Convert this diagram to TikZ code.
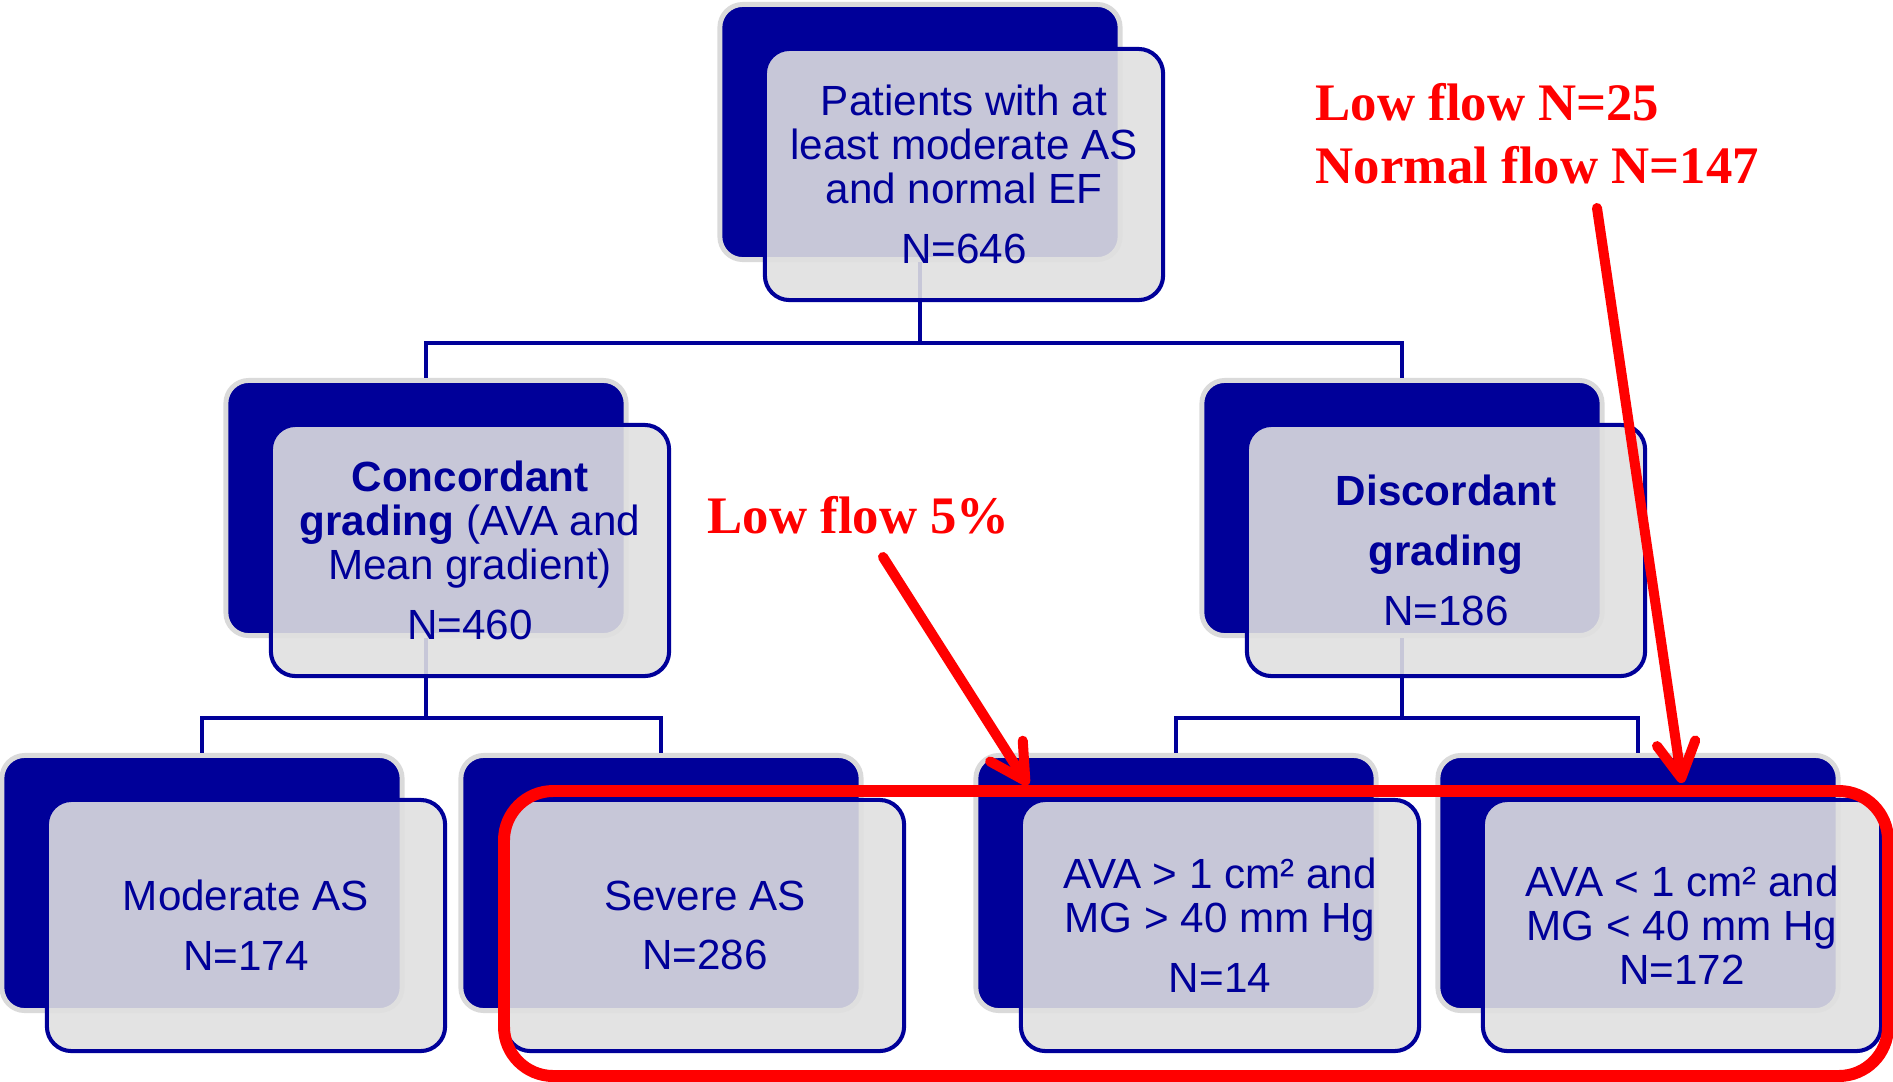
\documentclass[tikz,border=0pt]{standalone}
\usepackage{fontspec}
\setmainfont{Liberation Sans}
\newfontfamily\timesfont{Liberation Serif}
\usetikzlibrary{arrows.meta}
\definecolor{navy}{RGB}{0,0,153}
\definecolor{boxgray}{RGB}{224,224,224}
\definecolor{rimgray}{RGB}{218,218,218}

\begin{document}
\begin{tikzpicture}[x=0.01cm, y=-0.01cm,
    back/.style={rectangle, rounded corners=6.5pt, fill=navy, draw=rimgray, line width=1.4pt,
      minimum width=4cm, minimum height=2.55cm},
    front/.style={rectangle, rounded corners=7pt, fill=boxgray, fill opacity=0.89, text opacity=1,
      draw=navy, line width=1.15pt, minimum width=3.98cm, minimum height=2.51cm, inner sep=0pt,
      align=center, text=navy, font=\fontsize{12}{12.5}\selectfont},
    link/.style={draw=navy, line width=1.15pt},
    note/.style={text=red, inner sep=0pt, font=\timesfont\bfseries\fontsize{15}{18}\selectfont},
    pointer/.style={red, line width=2.85pt, line cap=round,
      -{Straight Barb[round,length=10pt,width=11pt]}}]
        \useasboundingbox (0,0) rectangle (1893,1081);

        % dark boxes at the back
        \node[back] (pat)   at (920,132) {};
        \node[back] (conc)  at (426,508) {};
        \node[back] (disc)  at (1402,508) {};
        \node[back] (mod)   at (202,883) {};
        \node[back] (sev)   at (661,883) {};
        \node[back] (avahi) at (1176,883) {};
        \node[back] (avalo) at (1638,883) {};

        % tree lines
        \coordinate (bus1) at (920,343);
        \coordinate (bus2) at (426,718);
        \coordinate (bus3) at (1402,718);
        \draw[link] (pat.south) -- (bus1) -| (conc.north)
                    (bus1) -| (disc.north);
        \draw[link] (conc.south) -- (bus2) -| (mod.north)
                    (bus2) -| (sev.north);
        \draw[link] (disc.south) -- (bus3) -| (avahi.north)
                    (bus3) -| (avalo.north);

        % text boxes in front
        \node[front] (patf) at ([shift={(44,42.5)}]pat.center)
            {Patients with at\\least moderate AS\\and normal EF\\[4.5pt]N=646};
        \node[front] (concf) at ([shift={(44,42.5)}]conc.center)
            {\textbf{Concordant}\\\textbf{grading} (AVA and\\Mean gradient)\\[4.5pt]N=460};
        \node[front] (discf) at ([shift={(44,42.5)}]disc.center)
            {\textbf{Discordant}\\[4.5pt]\textbf{grading}\\[4.5pt]N=186};
        \node[front] (modf) at ([shift={(44,42.5)}]mod.center)
            {Moderate AS\\[4.5pt]N=174};
        \node[front] (sevf) at ([shift={(44,42.5)}]sev.center)
            {Severe AS\\[4.5pt]N=286};
        \node[front] (avahif) at ([shift={(44,42.5)}]avahi.center)
            {AVA > 1 cm² and\\MG > 40 mm Hg\\[4.5pt]N=14};
        \node[front] (avalof) at ([shift={(44,42.5)}]avalo.center)
            {AVA < 1 cm² and\\MG < 40 mm Hg\\N=172};

        % red notes
        \node[note, anchor=base west] (lf5)   at (707,533)  {Low flow 5\%};
        \node[note, anchor=base west] (lf25)  at (1315,120) {Low flow N=25};
        \node[note, anchor=base west] (nf147) at (1315,183) {Normal flow N=147};
        \coordinate (from1) at (883,557);
        \coordinate (tip1)  at (1028,785);
        \coordinate (from2) at (1597,208);
        \coordinate (tip2)  at (1682,783);
        \draw[pointer] (from1) -- (tip1);
        \draw[pointer] (from2) -- (tip2);
        \draw[red, line width=3.4pt, rounded corners=14pt] (504,791) rectangle (1888,1076);
\end{tikzpicture}
\end{document}
